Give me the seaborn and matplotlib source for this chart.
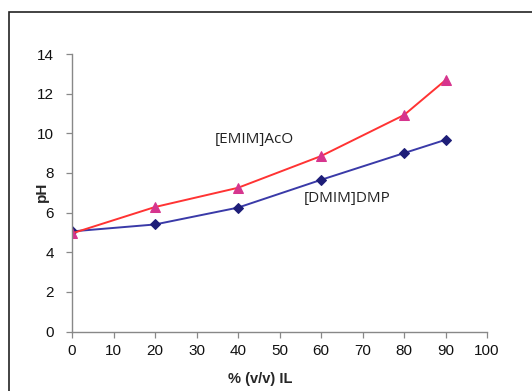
import matplotlib
matplotlib.use("Agg")
import matplotlib.pyplot as plt
import seaborn as sns
import pandas as pd
from matplotlib.patches import Rectangle

il_percent = [0, 20, 40, 60, 80, 90]
ph_emim_aco = [4.95, 6.28, 7.25, 8.85, 10.92, 12.68]
ph_dmim_dmp = [5.05, 5.4, 6.25, 7.65, 9.0, 9.67]
x_ticks = [0, 10, 20, 30, 40, 50, 60, 70, 80, 90, 100]
y_ticks = [0, 2, 4, 6, 8, 10, 12, 14]

sns.set_theme(style="white")
plt.rcParams['font.family'] = ['Liberation Sans', 'DejaVu Sans']

fig = plt.figure(figsize=(5.32, 3.91), dpi=100)
ax = fig.add_axes([72 / 532, 59.5 / 391, 415 / 532, 277.5 / 391])

df_a = pd.DataFrame({"x": il_percent, "y": ph_emim_aco})
df_b = pd.DataFrame({"x": il_percent, "y": ph_dmim_dmp})

sns.lineplot(data=df_b, x="x", y="y", ax=ax, color="#3a3aa8", lw=1.4,
             marker="D", markersize=5.5, markerfacecolor="#1e1e78",
             markeredgecolor="#1e1e78")
sns.lineplot(data=df_a, x="x", y="y", ax=ax, color="#ff3333", lw=1.4,
             marker="^", markersize=7, markerfacecolor="#d6358e",
             markeredgecolor="#d6358e")

ax.set_xlim(0, 100)
ax.set_ylim(0, 14)
ax.set_xticks(x_ticks)
ax.set_yticks(y_ticks)
ax.tick_params(axis="both", labelsize=11, colors="#111111", direction="out",
               length=4, width=0.9, bottom=True, left=True)
ax.tick_params(axis="y", pad=9)
ax.tick_params(axis="x", pad=5)
ax.tick_params(axis="both", color="#888888")
for s in ["top", "right"]:
    ax.spines[s].set_visible(False)
for s in ["left", "bottom"]:
    ax.spines[s].set_color("#888888")
    ax.spines[s].set_linewidth(1.0)

ax.set_xlabel("% (v/v) IL", fontsize=10.5, fontweight="bold")
ax.set_ylabel("pH", fontsize=11, fontweight="bold")
ax.xaxis.set_label_coords((260 - 72) / 415, -(372 - 331.5) / 277.5)
ax.yaxis.set_label_coords((49 - 72) / 415, (331.5 - 192) / 277.5)

ax.text(254 / 532, 1 - 140 / 391, "[EMIM]AcO", transform=fig.transFigure, fontsize=11,
        family=["Open Sans", "DejaVu Sans"], ha="center", va="center", color="#222222")
ax.text(347 / 532, 1 - 198 / 391, "[DMIM]DMP", transform=fig.transFigure, fontsize=11,
        family=["Open Sans", "DejaVu Sans"], ha="center", va="center", color="#222222")

fig.patches.append(Rectangle((9 / 532, -0.1), 1.2, 1.1 - 12 / 391,
                             transform=fig.transFigure, fill=False,
                             edgecolor="#222222", lw=1.2))

fig.savefig("out.png", dpi=100)
